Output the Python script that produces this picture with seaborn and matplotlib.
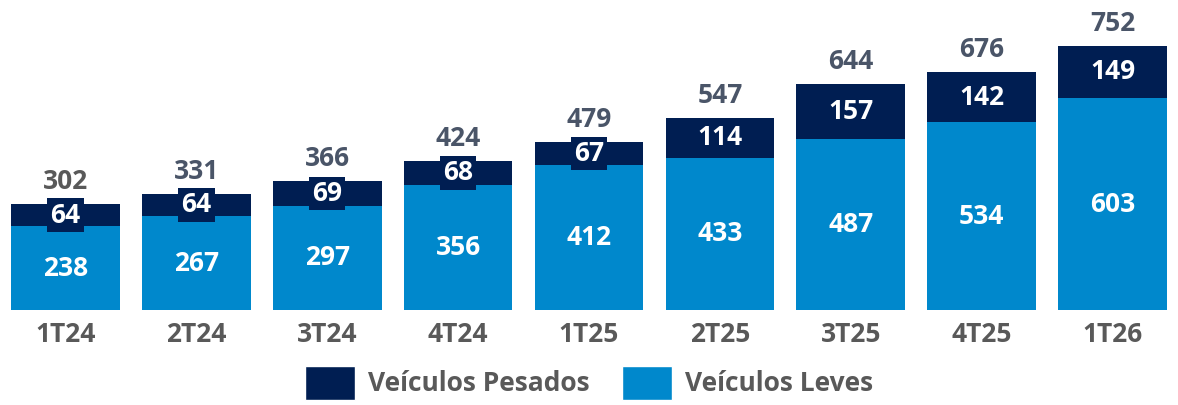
import matplotlib
matplotlib.use("Agg")
import matplotlib.pyplot as plt
import seaborn as sns
import pandas as pd
from matplotlib.patches import Patch

# data
quarters = ["1T24", "2T24", "3T24", "4T24", "1T25", "2T25", "3T25", "4T25", "1T26"]
leves = [238, 267, 297, 356, 412, 433, 487, 534, 603]
pesados = [64, 64, 69, 68, 67, 114, 157, 142, 149]
totals = [302, 331, 366, 424, 479, 547, 644, 676, 752]

NAVY = "#001E52"
BLUE = "#0088CC"
GRAY = "#595959"
TOTAL_GRAY = "#4A5568"

sns.set_style("white")
plt.rcParams["font.family"] = ["Open Sans", "DejaVu Sans"]

df = pd.DataFrame({"quarter": quarters, "leves": leves,
                   "pesados": pesados, "total": totals})

fig = plt.figure(figsize=(11.78, 4.05), dpi=100)
ax = fig.add_axes([0.0, 0.2346, 1.0, 0.694])

# stacked bars: draw the total in navy, then the light part over it
sns.barplot(data=df, x="quarter", y="total", color=NAVY, width=0.83,
            saturation=1, linewidth=0, ax=ax)
sns.barplot(data=df, x="quarter", y="leves", color=BLUE, width=0.83,
            saturation=1, linewidth=0, ax=ax)

FS = 19
for i in range(len(quarters)):
    ax.text(i, leves[i] / 2, f"{leves[i]}", ha="center", va="center",
            color="white", fontsize=FS, fontweight="bold")
    mid = leves[i] + pesados[i] / 2
    if pesados[i] < 100:
        ax.text(i, mid, f"{pesados[i]}", ha="center", va="center",
                color="white", fontsize=FS, fontweight="bold",
                bbox=dict(boxstyle="square,pad=0.12", fc=NAVY, ec="none"))
    else:
        ax.text(i, mid, f"{pesados[i]}", ha="center", va="center",
                color="white", fontsize=FS, fontweight="bold")
    ax.text(i, totals[i] + 64, f"{totals[i]}", ha="center", va="center",
            color=TOTAL_GRAY if i > 0 else GRAY, fontsize=FS, fontweight="bold")

ax.set_xlim(-0.5, len(quarters) - 0.5)
ax.set_ylim(0, 800)
ax.set_xlabel("")
ax.set_ylabel("")
ax.set_yticks([])
ax.tick_params(axis="x", length=0, pad=8, labelsize=FS, labelcolor=GRAY)
for lab in ax.get_xticklabels():
    lab.set_fontweight("bold")
sns.despine(ax=ax, left=True, bottom=True)

handles = [Patch(facecolor=NAVY, label="Veículos Pesados"),
           Patch(facecolor=BLUE, label="Veículos Leves")]
leg = fig.legend(handles=handles, loc="center", bbox_to_anchor=(0.5, 0.055),
                 ncol=2, frameon=False, handlelength=1.9, handleheight=1.6,
                 handletextpad=0.5, columnspacing=1.2,
                 prop={"size": FS, "weight": "bold"})
for t in leg.get_texts():
    t.set_color(GRAY)

fig.savefig("out.png", dpi=100)
